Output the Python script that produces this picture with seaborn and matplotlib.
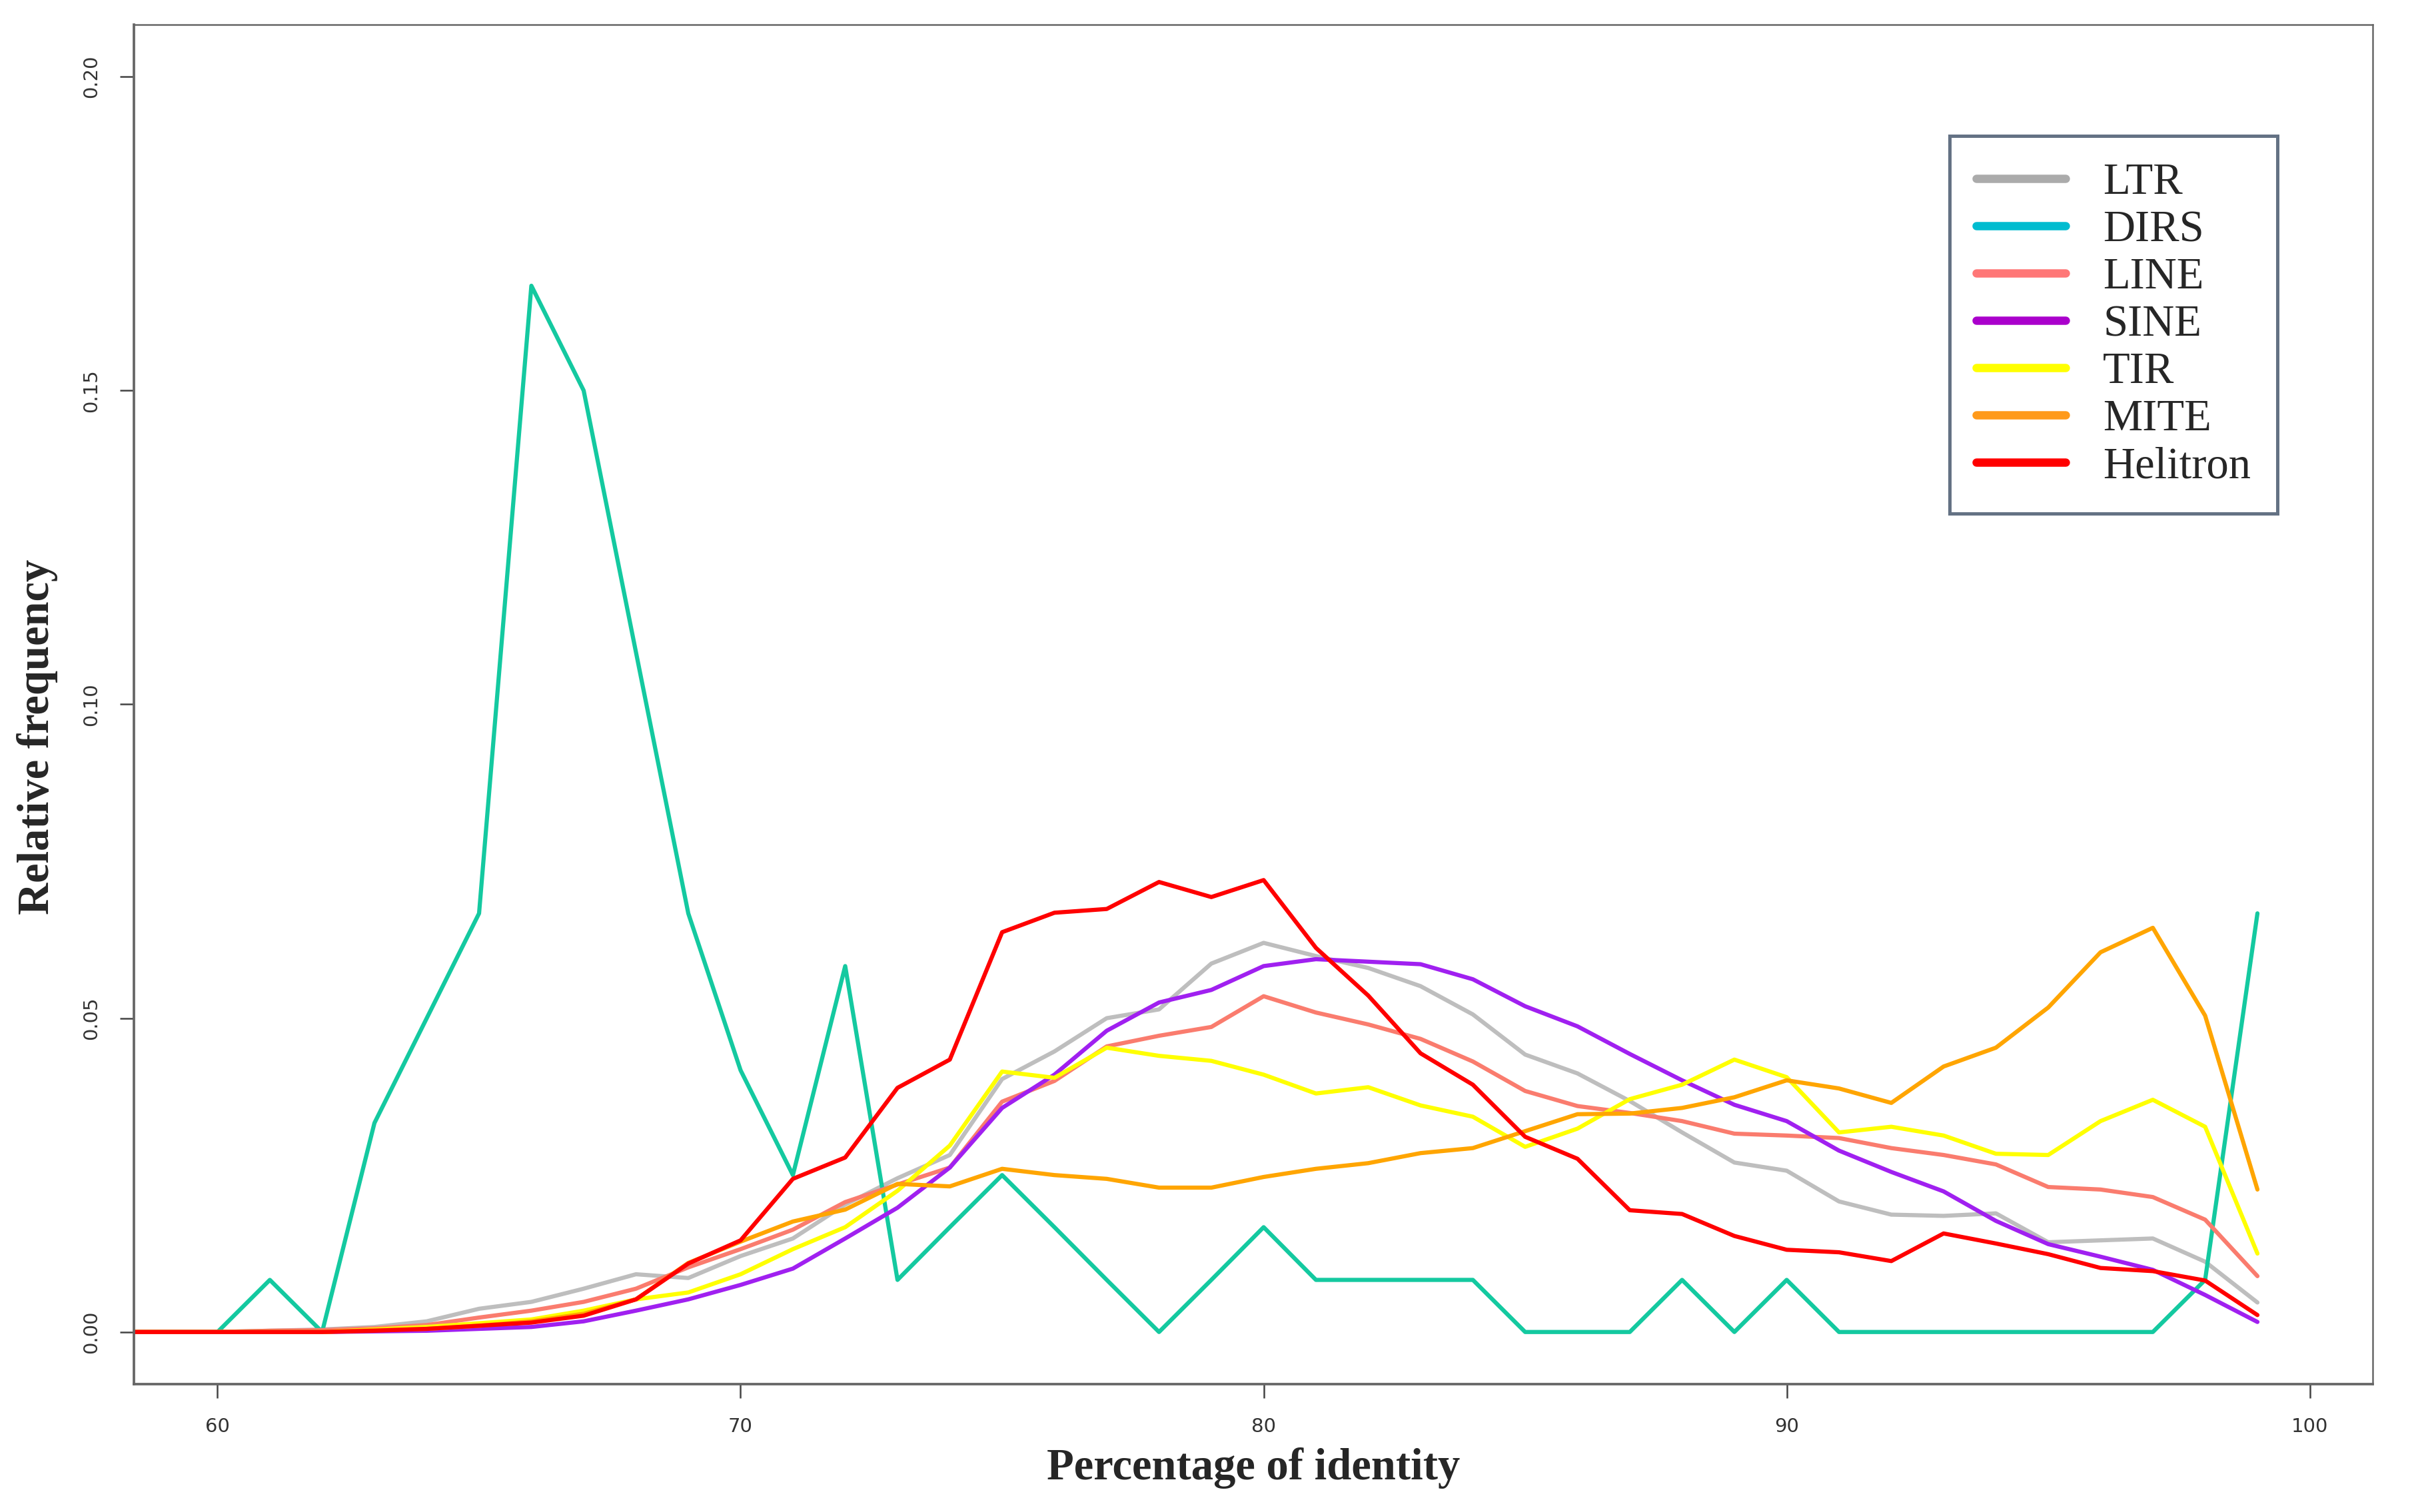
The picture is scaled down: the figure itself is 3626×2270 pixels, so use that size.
import seaborn as sns
import pandas as pd
import matplotlib.pyplot as plt
from matplotlib.lines import Line2D
from matplotlib.ticker import MultipleLocator, FormatStrFormatter

# Percentage of identity (x axis), one value per bin.
identity = list(range(58, 100))

ltr = [0, 0, 0, 0.0002, 0.0004, 0.0008, 0.0017, 0.0037, 0.0048, 0.0069, 0.0092, 0.0086,
       0.0121, 0.0149, 0.0203, 0.0245, 0.0282, 0.0403, 0.0447, 0.0500, 0.0514, 0.0587,
       0.0620, 0.0599, 0.0580, 0.0551, 0.0506, 0.0442, 0.0412, 0.0368, 0.0318, 0.0270,
       0.0257, 0.0208, 0.0187, 0.0185, 0.0189, 0.0143, 0.0146, 0.0149, 0.0112, 0.0047]
dirs = [0, 0, 0, 0.0083, 0, 0.0333, 0.05, 0.0667, 0.1667, 0.15, 0.1083, 0.0667,
        0.0417, 0.025, 0.0583, 0.0083, 0.0167, 0.025, 0.0167, 0.0083, 0, 0.0083,
        0.0167, 0.0083, 0.0083, 0.0083, 0.0083, 0, 0, 0, 0.0083, 0,
        0.0083, 0, 0, 0, 0, 0, 0, 0, 0.0083, 0.0667]
line = [0, 0, 0, 0.0002, 0.0003, 0.0006, 0.0011, 0.0023, 0.0034, 0.0048, 0.0069, 0.0103,
        0.0132, 0.0163, 0.0207, 0.0235, 0.0262, 0.0367, 0.0400, 0.0455, 0.0472, 0.0486,
        0.0535, 0.0509, 0.0490, 0.0467, 0.0431, 0.0384, 0.0360, 0.0349, 0.0336, 0.0316,
        0.0313, 0.0309, 0.0293, 0.0282, 0.0267, 0.0231, 0.0227, 0.0215, 0.0179, 0.0089]
sine = [0, 0, 0, 0, 0, 0.0001, 0.0002, 0.0005, 0.0008, 0.0017, 0.0034, 0.0052,
        0.0075, 0.0101, 0.0149, 0.0198, 0.0262, 0.0357, 0.0410, 0.0480, 0.0525, 0.0545,
        0.0583, 0.0594, 0.0590, 0.0586, 0.0562, 0.0519, 0.0487, 0.0443, 0.0401, 0.0362,
        0.0336, 0.0289, 0.0255, 0.0224, 0.0177, 0.0140, 0.0120, 0.0099, 0.0059, 0.0016]
tir = [0, 0, 0, 0, 0, 0.0004, 0.0008, 0.0014, 0.0020, 0.0034, 0.0052, 0.0063,
       0.0092, 0.0132, 0.0167, 0.0225, 0.0297, 0.0415, 0.0405, 0.0453, 0.0440, 0.0432,
       0.0410, 0.0380, 0.0390, 0.0361, 0.0343, 0.0295, 0.0324, 0.0371, 0.0394, 0.0434,
       0.0406, 0.0318, 0.0327, 0.0313, 0.0284, 0.0282, 0.0336, 0.0370, 0.0327, 0.0125]
mite = [0, 0, 0, 0, 0, 0.0003, 0.0005, 0.0010, 0.0017, 0.0029, 0.0052, 0.0110,
        0.0144, 0.0176, 0.0195, 0.0236, 0.0232, 0.0260, 0.0250, 0.0244, 0.0230, 0.0230,
        0.0247, 0.0260, 0.0269, 0.0285, 0.0293, 0.0320, 0.0347, 0.0348, 0.0357, 0.0374,
        0.0401, 0.0388, 0.0365, 0.0423, 0.0453, 0.0517, 0.0605, 0.0644, 0.0504, 0.0227]
helitron = [0, 0, 0, 0, 0, 0.0002, 0.0005, 0.0010, 0.0015, 0.0026, 0.0052, 0.0109,
            0.0146, 0.0244, 0.0278, 0.0389, 0.0434, 0.0637, 0.0668, 0.0674, 0.0717, 0.0693,
            0.0720, 0.0612, 0.0536, 0.0444, 0.0394, 0.0311, 0.0276, 0.0194, 0.0188, 0.0153,
            0.0131, 0.0127, 0.0113, 0.0157, 0.0141, 0.0124, 0.0102, 0.0097, 0.0082, 0.0027]

names = ["LTR", "DIRS", "LINE", "SINE", "TIR", "MITE", "Helitron"]
series = [ltr, dirs, line, sine, tir, mite, helitron]

# Colours of the plotted lines, and the (slightly different) ones in the legend box.
line_colors = {"LTR": "#BEBEBE", "DIRS": "#14C9A0", "LINE": "#FA7C6E", "SINE": "#A020F0",
               "TIR": "#FFFF00", "MITE": "#FFA500", "Helitron": "#FF0000"}
legend_colors = {"LTR": "#ABABAB", "DIRS": "#00BCD0", "LINE": "#FF7777", "SINE": "#AA00CC",
                 "TIR": "#FFFF00", "MITE": "#FF9A1A", "Helitron": "#FF0000"}

sns.set_theme(style="white")

df = pd.concat([pd.DataFrame({"identity": identity, "freq": s, "type": n})
                for n, s in zip(names, series)], ignore_index=True)

fig = plt.figure(figsize=(3626 / 300, 2270 / 300), dpi=300)
ax = fig.add_axes([0.0554, 0.0846, 0.9266, 0.8991])

sns.lineplot(data=df, x="identity", y="freq", hue="type", hue_order=names,
             palette=line_colors, linewidth=1.5, legend=False, ax=ax)

ax.set_xlim(58.4, 101.2)
ax.set_ylim(-0.0083, 0.2083)
ax.xaxis.set_major_locator(MultipleLocator(10))
ax.yaxis.set_major_locator(MultipleLocator(0.05))
ax.yaxis.set_major_formatter(FormatStrFormatter("%.2f"))
ax.tick_params(axis="both", which="major", direction="out", length=5, width=0.6,
               color="#444444", labelsize=7, labelcolor="#333333", bottom=True, left=True, pad=7)
plt.setp(ax.get_yticklabels(), rotation=90, va="center")

for side, sp in ax.spines.items():
    sp.set_color("#666666")
    sp.set_linewidth(0.9 if side in ("left", "bottom") else 0.6)

ax.set_xlabel("Percentage of identity", fontsize=16, fontweight="bold",
              family="Liberation Serif", labelpad=4)
ax.set_ylabel("Relative frequency", fontsize=16, fontweight="bold",
              family="Liberation Serif")
ax.yaxis.set_label_coords(-0.034, 0.476)

handles = [Line2D([0], [0], color=legend_colors[n], linewidth=3) for n in names]
leg = ax.legend(handles, names, loc="upper left", bbox_to_anchor=(0.807, 0.910),
                bbox_transform=fig.transFigure, frameon=True, fancybox=False,
                prop={"family": "Liberation Serif", "size": 16},
                handlelength=2.0, handletextpad=0.85, labelspacing=0.15,
                borderpad=0.6, borderaxespad=0)
leg.get_frame().set_edgecolor("#3D4F66")
leg.get_frame().set_linewidth(1.2)

plt.savefig("out.png", dpi=300)
